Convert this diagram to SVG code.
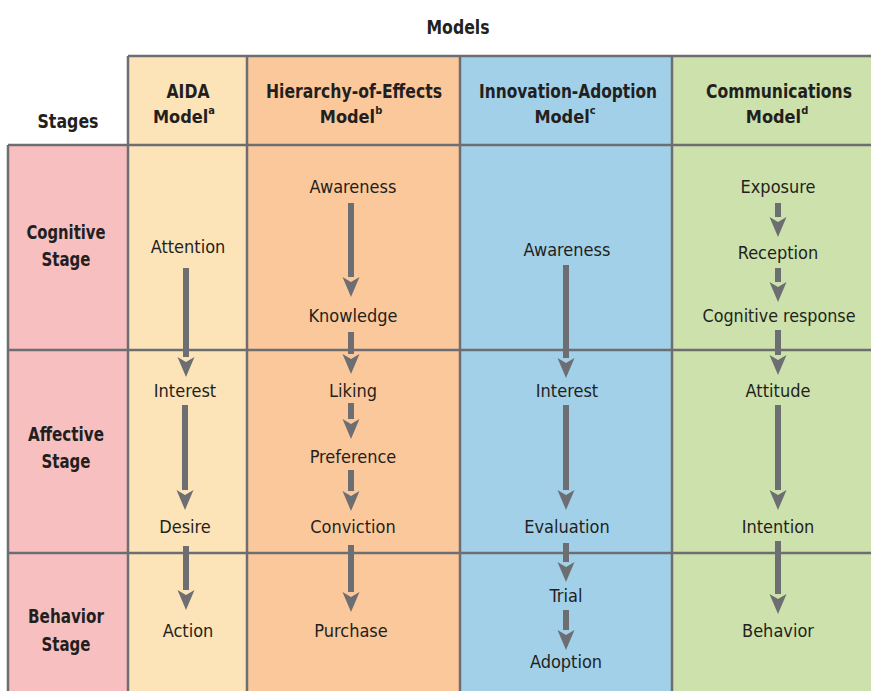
<svg xmlns="http://www.w3.org/2000/svg" width="871" height="691" viewBox="0 0 871 691">
<defs>
<style>
text{font-family:"DejaVu Sans Condensed","Liberation Sans",sans-serif;fill:#231f20;text-anchor:middle}
.h{font-weight:bold;font-size:19px}
.m{font-weight:bold;font-size:18px}
.t{font-size:18px}
.sup{font-size:11px;font-weight:bold}
.grid{stroke:#6d6e71;stroke-width:2.5;fill:none}
.arr{stroke:#6d6e71;stroke-width:6;fill:none;marker-end:url(#ah)}
</style>
<marker id="ah" markerUnits="userSpaceOnUse" viewBox="-12 -10 24 20" refX="-10" refY="0" markerWidth="24" markerHeight="20" orient="auto">
<path d="M10,0 L-10,-8.5 L-5,0 L-10,8.5 Z" fill="#6d6e71"/>
</marker>
</defs>
<rect width="871" height="691" fill="#ffffff"/>
<g id="backgrounds">
<rect x="8" y="145" width="120" height="546" fill="#f8bfc0"/>
<rect x="128" y="56" width="119" height="635" fill="#fde4b8"/>
<rect x="247" y="56" width="213" height="635" fill="#fbc89c"/>
<rect x="460" y="56" width="212" height="635" fill="#a2d0e8"/>
<rect x="672" y="56" width="199" height="635" fill="#cde1ac"/>
</g>
<g id="grid">
<path class="grid" d="M128,56 H871 M8,145 H871 M8,350 H871 M8,553 H871 M8,145 V691 M128,56 V691 M247,56 V691 M460,56 V691 M672,56 V691"/>
</g>
<g id="titles">
<text class="h" x="458" y="34" textLength="63" lengthAdjust="spacingAndGlyphs">Models</text>
<text class="h" x="68" y="128" textLength="61" lengthAdjust="spacingAndGlyphs">Stages</text>
</g>
<g id="header-aida"><text class="h" x="188" y="98" textLength="43" lengthAdjust="spacingAndGlyphs">AIDA</text><text class="m" x="184" y="123">Model<tspan class="sup" dy="-9">a</tspan></text></g>
<g id="header-hoe"><text class="h" x="354" y="98" textLength="176" lengthAdjust="spacingAndGlyphs">Hierarchy-of-Effects</text><text class="m" x="351" y="123">Model<tspan class="sup" dy="-9">b</tspan></text></g>
<g id="header-ia"><text class="h" x="568" y="98" textLength="178" lengthAdjust="spacingAndGlyphs">Innovation-Adoption</text><text class="m" x="565" y="123">Model<tspan class="sup" dy="-9">c</tspan></text></g>
<g id="header-comm"><text class="h" x="779" y="98" textLength="146" lengthAdjust="spacingAndGlyphs">Communications</text><text class="m" x="777" y="123">Model<tspan class="sup" dy="-9">d</tspan></text></g>
<g id="stage-cognitive"><text class="h" x="66" y="239" textLength="79" lengthAdjust="spacingAndGlyphs">Cognitive</text><text class="h" x="66" y="266" textLength="49" lengthAdjust="spacingAndGlyphs">Stage</text></g>
<g id="stage-affective"><text class="h" x="66" y="441" textLength="76" lengthAdjust="spacingAndGlyphs">Affective</text><text class="h" x="66" y="468" textLength="49" lengthAdjust="spacingAndGlyphs">Stage</text></g>
<g id="stage-behavior"><text class="h" x="66" y="623" textLength="76" lengthAdjust="spacingAndGlyphs">Behavior</text><text class="h" x="66" y="651" textLength="49" lengthAdjust="spacingAndGlyphs">Stage</text></g>
<g id="aida-attention"><text class="t" x="188" y="253">Attention</text></g>
<g id="aida-interest"><text class="t" x="185" y="397">Interest</text></g>
<g id="aida-desire"><text class="t" x="185" y="533">Desire</text></g>
<g id="aida-action"><text class="t" x="188" y="637">Action</text></g>
<g id="hoe-awareness"><text class="t" x="353" y="193">Awareness</text></g>
<g id="hoe-knowledge"><text class="t" x="353" y="322">Knowledge</text></g>
<g id="hoe-liking"><text class="t" x="353" y="397">Liking</text></g>
<g id="hoe-preference"><text class="t" x="353" y="463">Preference</text></g>
<g id="hoe-conviction"><text class="t" x="353" y="533">Conviction</text></g>
<g id="hoe-purchase"><text class="t" x="351" y="637">Purchase</text></g>
<g id="ia-awareness"><text class="t" x="567" y="256">Awareness</text></g>
<g id="ia-interest"><text class="t" x="567" y="397">Interest</text></g>
<g id="ia-evaluation"><text class="t" x="567" y="533">Evaluation</text></g>
<g id="ia-trial"><text class="t" x="566" y="602">Trial</text></g>
<g id="ia-adoption"><text class="t" x="566" y="668">Adoption</text></g>
<g id="comm-exposure"><text class="t" x="778" y="193">Exposure</text></g>
<g id="comm-reception"><text class="t" x="778" y="259">Reception</text></g>
<g id="comm-cognitive-response"><text class="t" x="779" y="322" textLength="153" lengthAdjust="spacingAndGlyphs">Cognitive response</text></g>
<g id="comm-attitude"><text class="t" x="778" y="397">Attitude</text></g>
<g id="comm-intention"><text class="t" x="778" y="533">Intention</text></g>
<g id="comm-behavior"><text class="t" x="778" y="637">Behavior</text></g>
<g id="connectors">
<line class="arr" x1="186" y1="268" x2="186" y2="357"/>
<line class="arr" x1="185" y1="405" x2="185" y2="490"/>
<line class="arr" x1="186" y1="546" x2="186" y2="590"/>
<line class="arr" x1="351" y1="203" x2="351" y2="277"/>
<line class="arr" x1="351" y1="332" x2="351" y2="354"/>
<line class="arr" x1="351" y1="403" x2="351" y2="419"/>
<line class="arr" x1="351" y1="470" x2="351" y2="491"/>
<line class="arr" x1="351" y1="545" x2="351" y2="592"/>
<line class="arr" x1="566" y1="265" x2="566" y2="358"/>
<line class="arr" x1="566" y1="405" x2="566" y2="490"/>
<line class="arr" x1="566" y1="543" x2="566" y2="562"/>
<line class="arr" x1="566" y1="610" x2="566" y2="630"/>
<line class="arr" x1="778" y1="203" x2="778" y2="217"/>
<line class="arr" x1="778" y1="268" x2="778" y2="282"/>
<line class="arr" x1="778" y1="330" x2="778" y2="355"/>
<line class="arr" x1="778" y1="405" x2="778" y2="490"/>
<line class="arr" x1="778" y1="541" x2="778" y2="594"/>
</g>
</svg>
